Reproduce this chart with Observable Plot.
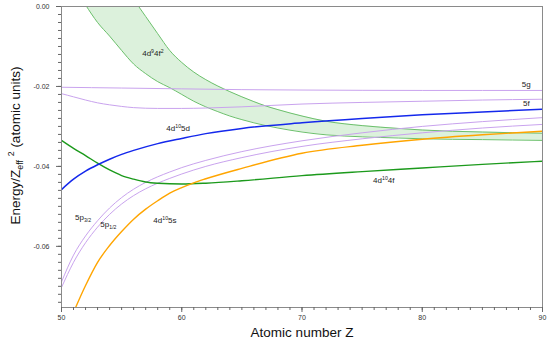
<!DOCTYPE html>
<html><head><meta charset="utf-8">
<script src="https://cdn.jsdelivr.net/npm/d3@7"></script>
<script src="https://cdn.jsdelivr.net/npm/@observablehq/plot@0.6"></script>
<style>body{margin:0;background:#fff}</style>
</head><body><div id="chart"></div>
<script>
// ---- data ----
const z5g = [50, 55, 60, 65, 70, 80, 90];
const e5g = [-0.0202, -0.0204, -0.0206, -0.0208, -0.0209, -0.0210, -0.0210];

const z5f = [50, 51, 52, 53, 54, 55, 56, 58, 60, 62, 65, 70, 75, 80, 85, 90];
const e5f = [-0.0218, -0.0226, -0.0234, -0.0241, -0.0246, -0.0250, -0.0253, -0.0255, -0.0255, -0.0254, -0.0251, -0.0244, -0.0240, -0.0237, -0.0234, -0.0232];

const z5d = [50, 51, 52, 53, 54, 55, 56, 58, 60, 62, 65, 70, 75, 80, 85, 90];
const e5d = [-0.0458, -0.0432, -0.0412, -0.0396, -0.0382, -0.0370, -0.0360, -0.0343, -0.0330, -0.0318, -0.0305, -0.0291, -0.0280, -0.0271, -0.0264, -0.0257];

const z4f = [50, 51, 52, 53, 54, 55, 56, 57, 58, 60, 62, 65, 70, 75, 80, 85, 90];
const e4f = [-0.0335, -0.0355, -0.0373, -0.0392, -0.0409, -0.0423, -0.0432, -0.0439, -0.0442, -0.0444, -0.0442, -0.0436, -0.0423, -0.0413, -0.0404, -0.0395, -0.0387];

const z5s = [51, 52, 53, 54, 55, 56, 57, 58, 59, 60, 61, 62, 65, 70, 75, 80, 85, 90];
const e5s = [-0.0765, -0.0698, -0.0640, -0.0598, -0.0563, -0.0532, -0.0507, -0.0486, -0.0467, -0.0453, -0.0441, -0.0431, -0.0405, -0.0367, -0.0347, -0.0332, -0.0321, -0.0312];

const z5p = [50, 51, 52, 53, 54, 55, 56, 57, 58, 59, 60, 62, 65, 70, 75, 80, 85, 90];
const e5p32 = [-0.0689, -0.0622, -0.0574, -0.0536, -0.0504, -0.0478, -0.0457, -0.0440, -0.0426, -0.0414, -0.0403, -0.0385, -0.0363, -0.0336, -0.0316, -0.0300, -0.0288, -0.0278];
const e5p12 = [-0.0703, -0.0640, -0.0591, -0.0552, -0.0520, -0.0494, -0.0473, -0.0456, -0.0442, -0.0430, -0.0419, -0.0400, -0.0378, -0.0350, -0.0331, -0.0316, -0.0304, -0.0295];

// 4d9 4f2 band (edges)
const zBand = [52, 53, 54, 55, 56, 57, 58, 59, 60, 61, 62, 63, 64, 65, 66, 67, 68, 70, 72, 75, 78, 80, 85, 90];
const eBandLow = [0.0004, -0.0040, -0.0074, -0.0110, -0.0144, -0.0168, -0.0188, -0.0203, -0.0220, -0.0237, -0.0251, -0.0263, -0.0274, -0.0283, -0.0291, -0.0298, -0.0304, -0.0314, -0.0321, -0.0326, -0.0329, -0.0331, -0.0333, -0.0335];
const eBandHigh = [0.0240, 0.0170, 0.0110, 0.0060, 0.0018, -0.0025, -0.0068, -0.0110, -0.0140, -0.0164, -0.0183, -0.0199, -0.0213, -0.0226, -0.0238, -0.0249, -0.0258, -0.0274, -0.0287, -0.0298, -0.0305, -0.0309, -0.0314, -0.0317];

// curve labels
const labelText = ["4d{^9}4f{^2}", "4d{^10}5d", "5g", "5f", "4d{^10}4f", "4d{^10}5s", "5p{_3/2}", "5p{_1/2}"];
const labelZ = [57.6, 59.7, 88.65, 88.65, 76.8, 58.6, 51.8, 53.9];
const labelE = [-0.0118, -0.0305, -0.0195, -0.0242, -0.0435, -0.0535, -0.0528, -0.0545];

// axes
const xDomain = [50, 90];
const yDomain = [-0.0753, 0];
const xMajor = [50, 60, 70, 80, 90];
const xMinor = d3.range(50, 91);
const yMajor = [0, -0.02, -0.04, -0.06];
const yMinor = d3.range(0, 38).map(i => -i * 0.002);
const xTitle = "Atomic number Z";
const yTitle = "Energy/Z{_eff} {^2} (atomic units)";

// ---- build tables ----
const pts = (zs, es) => zs.map((z, i) => ({z, e: es[i]}));
const band = zBand.map((z, i) => ({z, lo: eBandLow[i], hi: eBandHigh[i]}));
const labels = labelText.map((t, i) => ({t, z: labelZ[i], e: labelE[i]}));

const purple = "#c9a3ee", blue = "#1428ec", dgreen = "#1c9a1c", orange = "#ffa500";
const bandLine = "#6cc06c", bandFill = "#dcf1dc";
const curve = "monotone-x";

const chart = Plot.plot({
  width: 550, height: 342,
  marginLeft: 61, marginRight: 8, marginTop: 6, marginBottom: 35,
  x: {domain: xDomain},
  y: {domain: yDomain},
  style: {fontFamily: "'Liberation Sans', Arial, sans-serif", background: "#fff", overflow: "visible"},
  marks: [
    Plot.areaY(band, {x: "z", y1: "lo", y2: "hi", fill: bandFill, curve, clip: true}),
    Plot.line(band, {x: "z", y: "lo", stroke: bandLine, strokeWidth: 1, curve, clip: true}),
    Plot.line(band, {x: "z", y: "hi", stroke: bandLine, strokeWidth: 1, curve, clip: true}),
    Plot.line(pts(z5g, e5g), {x: "z", y: "e", stroke: purple, strokeWidth: 1, curve, clip: true}),
    Plot.line(pts(z5f, e5f), {x: "z", y: "e", stroke: purple, strokeWidth: 1, curve, clip: true}),
    Plot.line(pts(z5p, e5p32), {x: "z", y: "e", stroke: purple, strokeWidth: 1, curve, clip: true}),
    Plot.line(pts(z5p, e5p12), {x: "z", y: "e", stroke: purple, strokeWidth: 1, curve, clip: true}),
    Plot.line(pts(z4f, e4f), {x: "z", y: "e", stroke: dgreen, strokeWidth: 1.4, curve, clip: true}),
    Plot.line(pts(z5s, e5s), {x: "z", y: "e", stroke: orange, strokeWidth: 1.4, curve, clip: true}),
    Plot.line(pts(z5d, e5d), {x: "z", y: "e", stroke: blue, strokeWidth: 1.5, curve, clip: true}),
    Plot.frame({stroke: "#8a8a8a", strokeWidth: 1}),
    Plot.axisX({ticks: xMinor, tickSize: 3, tickFormat: () => "", label: null, stroke: "#666"}),
    Plot.axisX({ticks: xMajor, tickSize: 5, tickPadding: 3, fontSize: 7, tickFormat: d => String(d), label: null, stroke: "#666", fill: "#333"}),
    Plot.axisY({ticks: yMinor, tickSize: 3, tickFormat: () => "", label: null, stroke: "#666"}),
    Plot.axisY({ticks: yMajor, tickSize: 5, tickPadding: 7, fontSize: 7, tickFormat: d => d.toFixed(2), label: null, stroke: "#666", fill: "#333"}),
    Plot.text(labels, {x: "z", y: "e", text: "t", fontSize: 8, fill: "#222"}),
    Plot.text([xTitle], {text: d => d, frameAnchor: "bottom", textAnchor: "middle", lineAnchor: "middle", dy: 25, fontSize: 13.5, fill: "#111"}),
    Plot.text([yTitle], {text: d => d, frameAnchor: "left", textAnchor: "middle", lineAnchor: "middle", rotate: -90, dx: -46, dy: -11.5, fontSize: 13.5, fill: "#111"})
  ]
});
document.getElementById("chart").appendChild(chart);

// rich text: {^sup} and {_sub}
const NS = "http://www.w3.org/2000/svg";
d3.select(chart).selectAll("text").each(function() {
  const s = this.textContent;
  if (!s.includes("{")) return;
  const fs = parseFloat(getComputedStyle(this).fontSize) || 8;
  this.textContent = "";
  const re = /\{([\^_])([^}]*)\}/g;
  let last = 0, m, shift = 0;
  const add = (t, dy, size) => {
    const ts = document.createElementNS(NS, "tspan");
    ts.textContent = t;
    if (dy) ts.setAttribute("dy", dy.toFixed(2));
    if (size) ts.setAttribute("font-size", size.toFixed(2));
    this.appendChild(ts);
  };
  while ((m = re.exec(s))) {
    if (m.index > last) { add(s.slice(last, m.index), -shift, null); shift = 0; }
    const d = m[1] === "^" ? -fs * 0.42 : fs * 0.22;
    add(m[2], d - shift, fs * 0.65);
    shift = d;
    last = re.lastIndex;
  }
  if (last < s.length) add(s.slice(last), -shift, null);
});
</script>
</body></html>
